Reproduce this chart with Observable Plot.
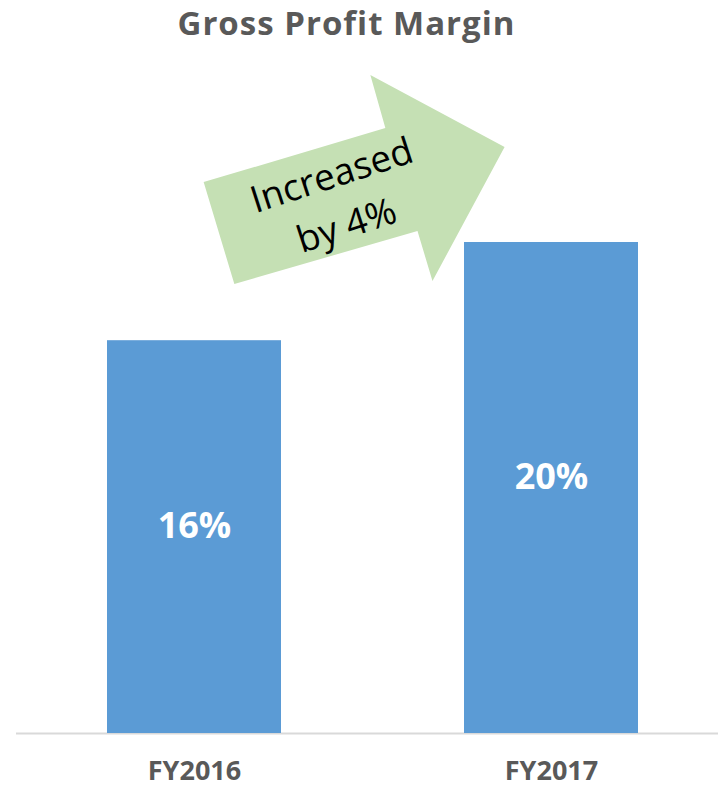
<!DOCTYPE html>
<html>
<head>
<meta charset="utf-8">
<script src="https://cdn.jsdelivr.net/npm/d3@7"></script>
<script src="https://cdn.jsdelivr.net/npm/@observablehq/plot@0.6"></script>
<style>
  html, body { margin: 0; padding: 0; background: #fff; }
  #title { width: 718px; height: 42px; box-sizing: border-box; padding-right: 25px;
    text-align: center; font-family: "Open Sans", sans-serif; font-weight: bold;
    font-size: 33px; letter-spacing: 1px; line-height: 45px; color: #595959; overflow: visible; white-space: nowrap; }
</style>
</head>
<body>
<div id="title">Gross Profit Margin</div>
<div id="chart"></div>
<script>
const categories = ["FY2016", "FY2017"];
const margins = [16, 20];
const barLabels = ["16%", "20%"];

// annotation arrow, in data units: u = fraction between the two bar centres, v = margin %
const arrowU = [0.027, 0.536, 0.494, 0.870, 0.668, 0.626, 0.113];
const arrowV = [22.44, 24.64, 26.80, 23.87, 18.41, 20.45, 18.29];
const arrowTextLines = ["Increased", "by 4%"];
const arrowTextU = [0.385, 0.427];
const arrowTextV = [22.73, 20.69];
const arrowAngle = -18;

const bars = categories.map((c, i) => ({category: c, value: margins[i], label: barLabels[i]}));

function arrowMark(index, scales) {
  const x = scales.x, y = scales.y;
  const bw = x.bandwidth();
  const c0 = x(categories[0]) + bw / 2, c1 = x(categories[1]) + bw / 2;
  const px = u => c0 + u * (c1 - c0);
  const g = d3.create("svg:g");
  const pts = arrowU.map((u, i) => [px(u), y(arrowV[i])]);
  g.append("path")
    .attr("d", "M" + pts.map(p => p.join(",")).join("L") + "Z")
    .attr("fill", "#C5E0B4");
  arrowTextLines.forEach((t, i) => {
    const tx = px(arrowTextU[i]), ty = y(arrowTextV[i]);
    g.append("text")
      .attr("transform", `translate(${tx},${ty}) rotate(${arrowAngle})`)
      .attr("text-anchor", "middle")
      .attr("dy", "0.35em")
      .attr("font-family", "'Open Sans', sans-serif")
      .attr("font-size", 37)
      .attr("fill", "#000")
      .text(t);
  });
  return g.node();
}

const plot = Plot.plot({
  width: 718,
  height: 746,
  marginLeft: 16,
  marginRight: 0,
  marginTop: 0,
  marginBottom: 55,
  style: {fontFamily: "'Open Sans', sans-serif", color: "#595959", background: "#fff", overflow: "visible"},
  x: {domain: categories, range: [16, 730], paddingInner: 0.5126, paddingOuter: 0.2563, label: null},
  y: {domain: [0, 20], range: [691, 200], axis: null},
  marks: [
    Plot.ruleY([0], {stroke: "#d9d9d9", strokeWidth: 2}),
    Plot.barY(bars, {x: "category", y: "value", fill: "#5B9BD5"}),
    Plot.text(bars, {x: "category", y: d => d.value / 2, text: "label", fill: "#fff",
      fontSize: 36, fontWeight: "bold", dy: -11}),
    Plot.axisX({tickSize: 0, tickPadding: 27, fontSize: 27, fontWeight: "bold", lineAnchor: "top"}),
    arrowMark
  ]
});
document.getElementById("chart").appendChild(plot);
</script>
</body>
</html>
